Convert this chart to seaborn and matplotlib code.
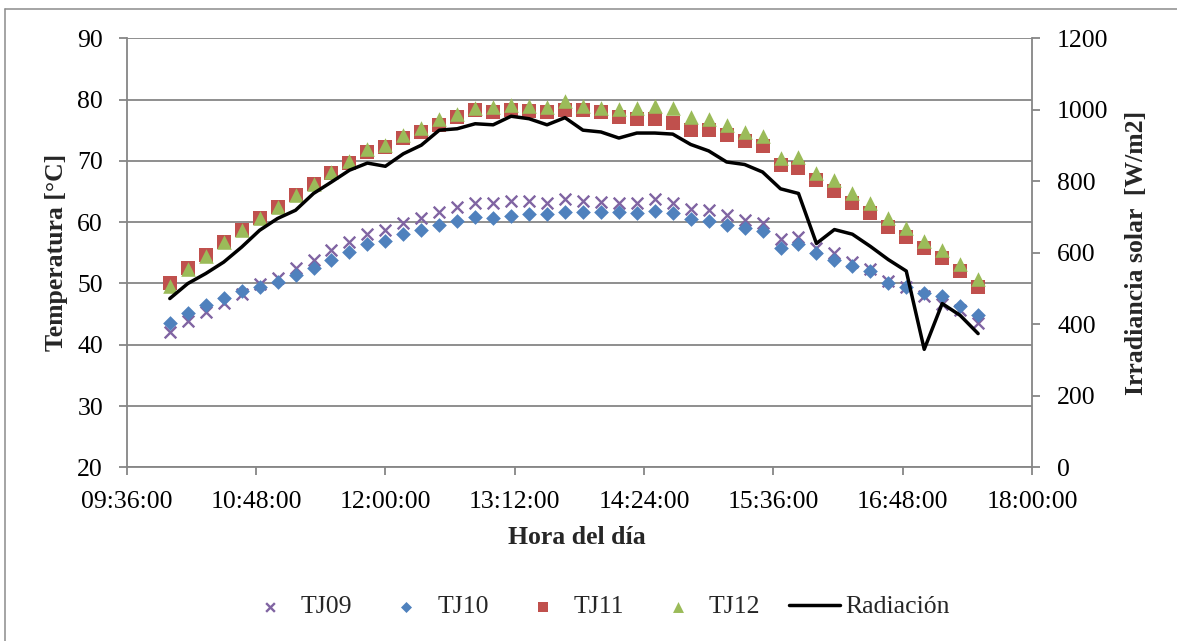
import matplotlib
matplotlib.use("Agg")
import matplotlib.pyplot as plt
import seaborn as sns
from matplotlib.lines import Line2D

# ---------------- data ----------------
times = ["10:00", "10:10", "10:20", "10:30", "10:40", "10:50",
         "11:00", "11:10", "11:20", "11:30", "11:40", "11:50",
         "12:00", "12:10", "12:20", "12:30", "12:40", "12:50",
         "13:00", "13:10", "13:20", "13:30", "13:40", "13:50",
         "14:00", "14:10", "14:20", "14:30", "14:40", "14:50",
         "15:00", "15:10", "15:20", "15:30", "15:40", "15:50",
         "16:00", "16:10", "16:20", "16:30", "16:40", "16:50",
         "17:00", "17:10", "17:20", "17:30"]

tj09 = [42.1, 43.9, 45.3, 46.8, 48.3, 49.9, 50.9, 52.6, 53.8, 55.4, 56.7, 58.1,
        58.7, 59.8, 60.6, 61.7, 62.5, 63.1, 63.1, 63.4, 63.5, 63.2, 63.7, 63.5,
        63.3, 63.2, 63.2, 63.7, 63.2, 62.2, 62.0, 61.2, 60.3, 59.9, 57.2, 57.5,
        55.8, 55.0, 53.5, 52.4, 50.4, 49.4, 47.9, 46.7, 45.6, 43.5]
tj10 = [43.5, 45.1, 46.5, 47.7, 48.8, 49.4, 50.3, 51.4, 52.5, 53.9, 55.2, 56.5,
        57.0, 58.0, 58.8, 59.5, 60.2, 60.9, 60.7, 61.0, 61.4, 61.3, 61.7, 61.7,
        61.6, 61.6, 61.5, 61.8, 61.5, 60.5, 60.2, 59.5, 59.1, 58.5, 55.8, 56.5,
        54.9, 53.9, 52.8, 52.0, 50.1, 49.5, 48.4, 47.9, 46.4, 44.8]
tj11 = [50.0, 52.6, 54.6, 56.7, 58.7, 60.6, 62.4, 64.4, 66.2, 68.0, 69.7, 71.4,
        72.2, 73.7, 74.7, 75.8, 77.1, 78.3, 77.9, 78.3, 78.2, 78.0, 78.3, 78.3,
        77.9, 77.2, 76.9, 76.9, 76.1, 75.0, 75.1, 74.2, 73.2, 72.4, 69.3, 68.9,
        66.9, 65.1, 63.1, 61.5, 59.2, 57.6, 55.8, 54.1, 52.0, 49.4]
tj12 = [49.6, 52.3, 54.4, 56.7, 58.7, 60.6, 62.4, 64.5, 66.3, 68.2, 69.9, 72.0,
        72.6, 74.2, 75.4, 76.8, 77.7, 78.7, 78.8, 79.1, 78.9, 78.8, 79.7, 78.9,
        78.7, 78.5, 78.6, 78.9, 78.6, 77.2, 76.9, 75.8, 74.7, 74.0, 70.4, 70.7,
        68.1, 66.8, 64.7, 63.1, 60.6, 59.0, 57.0, 55.4, 53.2, 50.8]
radiacion = [472, 514, 542, 574, 616, 663, 696, 719, 766, 798, 831, 851,
             842, 877, 901, 943, 947, 961, 958, 982, 975, 958, 978, 943,
             938, 921, 935, 935, 932, 903, 885, 854, 847, 826, 779, 766,
             626, 665, 652, 618, 581, 549, 330, 458, 425, 374]

x_ticks_min = [576, 648, 720, 792, 864, 936, 1008, 1080]
y_left_ticks = [20, 30, 40, 50, 60, 70, 80, 90]
y_right_ticks = [0, 200, 400, 600, 800, 1000, 1200]

minutes = [int(t.split(":")[0]) * 60 + int(t.split(":")[1]) for t in times]

# ---------------- style ----------------
sns.set_theme(style="white")
plt.rcParams["font.family"] = ["Liberation Serif", "DejaVu Serif"]
FS = 18.5
GRAY = "#868686"

W, H = 1177, 641
fig = plt.figure(figsize=(W / 100, H / 100), dpi=100)
fig.patch.set_facecolor("white")
L, R, T, B = 126.7, 1032, 38.3, 467.3
ax = fig.add_axes([L / W, 1 - B / H, (R - L) / W, (B - T) / H])

sns.scatterplot(x=minutes, y=tj09, marker="x", color="#8064A2", s=70,
                linewidth=1.7, ax=ax, label="TJ09", zorder=3)
sns.scatterplot(x=minutes, y=tj10, marker="D", color="#4F81BD", s=56,
                linewidth=0, ax=ax, label="TJ10", zorder=4)
sns.scatterplot(x=minutes, y=tj11, marker="s", color="#C0504D", s=88,
                linewidth=0, ax=ax, label="TJ11", zorder=5)
sns.scatterplot(x=minutes, y=tj12, marker="^", color="#9BBB59", s=110,
                linewidth=0, ax=ax, label="TJ12", zorder=6)

ax2 = ax.twinx()
sns.lineplot(x=minutes, y=radiacion, color="black", linewidth=2.5, ax=ax2,
             label="Radiación")
ax2.lines[0].set_solid_joinstyle("round")

# axes ranges / ticks
ax.set_xlim(576, 1080)
ax.set_xticks(x_ticks_min)
ax.set_xticklabels([f"{m // 60:02d}:{m % 60:02d}:00" for m in x_ticks_min])
ax.set_ylim(20, 90)
ax.set_yticks(y_left_ticks)
ax2.set_ylim(0, 1200)
ax2.set_yticks(y_right_ticks)
ax.set_xlabel("")
ax.set_ylabel("")
ax2.set_ylabel("")

ax.yaxis.grid(True, color=GRAY, linewidth=1.3)
ax.xaxis.grid(False)
ax.set_axisbelow(True)

for s in ["top", "right"]:
    ax.spines[s].set_visible(False)
for s in ["left", "bottom"]:
    ax.spines[s].set_color(GRAY)
    ax.spines[s].set_linewidth(1.3)
for s in ["top", "left", "bottom"]:
    ax2.spines[s].set_visible(False)
ax2.spines["right"].set_color(GRAY)
ax2.spines["right"].set_linewidth(1.3)

ax.tick_params(axis="both", direction="out", length=6, width=1.3,
               color=GRAY, labelsize=FS, labelcolor="black", pad=11,
               left=True, bottom=True)
ax2.tick_params(axis="y", direction="out", length=6, width=1.3,
                color=GRAY, labelsize=FS, labelcolor="black", pad=12,
                right=True)

# axis titles
fig.text(57 / W, 1 - 252.6 / H, "Temperatura [°C]", rotation=90,
         ha="center", va="center", fontsize=FS, fontweight="bold")
fig.text(1136.5 / W, 1 - 252.6 / H, "Irradiancia solar  [W/m2]", rotation=90,
         ha="center", va="center", fontsize=FS, fontweight="bold")
fig.text(577 / W, 1 - 538 / H, "Hora del día", ha="center", va="center",
         fontsize=FS, fontweight="bold")

# legend
h1, l1 = ax.get_legend_handles_labels()
h2, l2 = ax2.get_legend_handles_labels()
if ax.get_legend():
    ax.get_legend().remove()
if ax2.get_legend():
    ax2.get_legend().remove()
fig.legend(h1 + h2, l1 + l2, loc="center", bbox_to_anchor=(597 / W, 1 - 607 / H),
           ncol=5, frameon=False, fontsize=FS, handlelength=2.0,
           handletextpad=0.2, columnspacing=1.1, markerscale=0.75)

# outer frame (top and left edges visible)
fig.add_artist(Line2D([5 / W, 1], [1 - 9 / H, 1 - 9 / H], transform=fig.transFigure,
                      color="#8c8c8c", linewidth=1.1))
fig.add_artist(Line2D([5 / W, 5 / W], [0, 1 - 9 / H], transform=fig.transFigure,
                      color="#8c8c8c", linewidth=1.1))

fig.savefig("out.png", dpi=100)
